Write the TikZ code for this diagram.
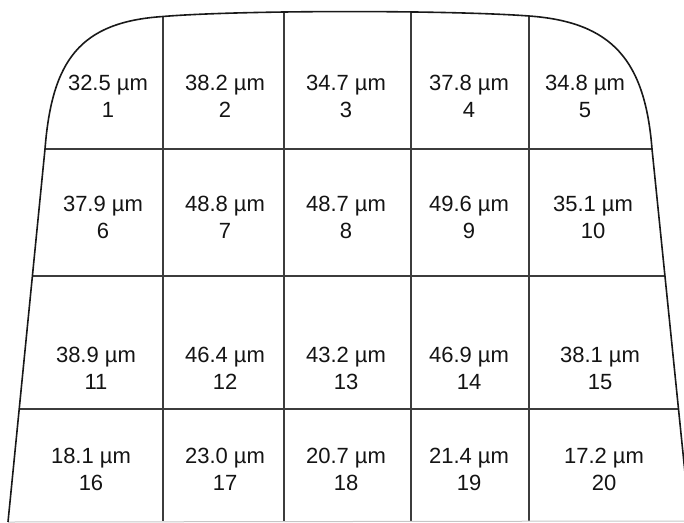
\documentclass[tikz,border=0pt]{standalone}
\usepackage{fontspec}
\setmainfont{Liberation Sans}
\usepackage{tikz}
\usetikzlibrary{positioning, calc}
\definecolor{cborde}{RGB}{25,25,25}
\definecolor{crejilla}{RGB}{60,60,60}
\definecolor{ctexto}{RGB}{20,20,20}

\begin{document}
\begin{tikzpicture}[x=1pt, y={(0pt,-1pt)},
    celda/.style={align=center, inner sep=0pt, text=ctexto, font=\fontsize{22}{27}\selectfont},
    borde/.style={draw=cborde, line width=1.6pt, line join=round},
    rejilla/.style={draw=crejilla, line width=1.3pt}]

  \useasboundingbox (0,0) rectangle (684,522);

  % puntos del contorno
  \coordinate (l0) at (45,149);
  \coordinate (l1) at (32.4,276);
  \coordinate (l2) at (19.2,409);
  \coordinate (l3) at (8,522);
  \coordinate (r0) at (652,149);
  \coordinate (r1) at (664.7,276);
  \coordinate (r2) at (678,409);
  \coordinate (r3) at (690,522);
  \coordinate (t1) at (163,16.5);
  \coordinate (t2) at (284,12);
  \coordinate (t3) at (411,12);
  \coordinate (t4) at (529,16);
  \coordinate (b1) at (163,521);
  \coordinate (b2) at (284,521);
  \coordinate (b3) at (411,521);
  \coordinate (b4) at (529,521);

  % rejilla
  \draw[rejilla] (l0) -- (r0);
  \draw[rejilla] (l1) -- (r1);
  \draw[rejilla] (l2) -- (r2);
  \draw[rejilla] (t1) -- (b1);
  \draw[rejilla] (t2) -- (b2);
  \draw[rejilla] (t3) -- (b3);
  \draw[rejilla] (t4) -- (b4);
  \draw[gray!45, line width=1pt] (l3) -- (684,521);

  % contorno
  \draw[borde] (l3) -- (l0) .. controls (52,60) and (80,22) .. (t1)
    .. controls (240,10) and (450,10) .. (t4)
    .. controls (612,22) and (645,60) .. (r0) -- (r3);

  % celdas
  \node[celda] (c1) at (108,96) {32.5 µm\\1};
  \node[celda] (c2) at (225,96) {38.2 µm\\2};
  \node[celda] (c3) at (346,96) {34.7 µm\\3};
  \node[celda] (c4) at (469,96) {37.8 µm\\4};
  \node[celda] (c5) at (585,96) {34.8 µm\\5};

  \node[celda] (c6) at (103,217) {37.9 µm\\6};
  \node[celda] (c7) at (225,217) {48.8 µm\\7};
  \node[celda] (c8) at (346,217) {48.7 µm\\8};
  \node[celda] (c9) at (469,217) {49.6 µm\\9};
  \node[celda] (c10) at (593,217) {35.1 µm\\10};

  \node[celda] (c11) at (96,368) {38.9 µm\\11};
  \node[celda] (c12) at (225,368) {46.4 µm\\12};
  \node[celda] (c13) at (346,368) {43.2 µm\\13};
  \node[celda] (c14) at (469,368) {46.9 µm\\14};
  \node[celda] (c15) at (600,368) {38.1 µm\\15};

  \node[celda] (c16) at (91,469) {18.1 µm\\16};
  \node[celda] (c17) at (225,469) {23.0 µm\\17};
  \node[celda] (c18) at (346,469) {20.7 µm\\18};
  \node[celda] (c19) at (469,469) {21.4 µm\\19};
  \node[celda] (c20) at (604,469) {17.2 µm\\20};
\end{tikzpicture}
\end{document}
